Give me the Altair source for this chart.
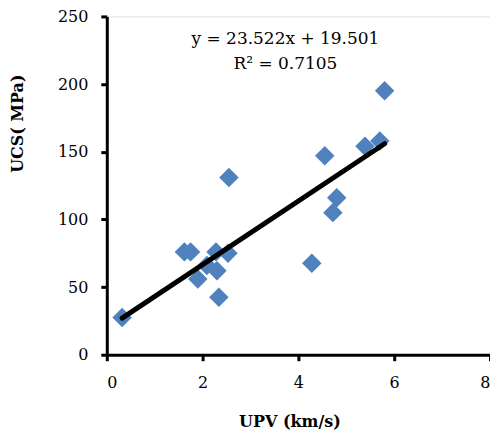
import altair as alt
import pandas as pd

# Data
upv = [0.32, 1.62, 1.75, 1.90, 2.09, 2.28, 2.30, 2.34, 2.53, 2.55,
       4.28, 4.55, 4.72, 4.80, 5.39, 5.70, 5.80]
ucs = [27.5, 76.0, 76.0, 56.0, 66.0, 76.0, 62.0, 42.5, 75.0, 131.0,
       67.6, 147.0, 105.0, 116.0, 154.0, 158.0, 195.0]

slope = 23.522
intercept = 19.501
r2 = 0.7105
eq_lines = [f"y = {slope}x + {intercept}", f"R² = {r2}"]

pts = pd.DataFrame({"UPV": upv, "UCS": ucs})
xmin, xmax = min(upv), max(upv)
trend = pd.DataFrame({"UPV": [xmin, xmax],
                      "UCS": [slope * xmin + intercept, slope * xmax + intercept]})

FONT = "DejaVu Serif"

xscale = alt.Scale(domain=[0, 8], nice=False)
yscale = alt.Scale(domain=[0, 250], nice=False)

xaxis = alt.Axis(values=[0, 2, 4, 6, 8], title="UPV (km/s)", grid=False,
                 domainColor="black", domainWidth=3, tickColor="black", tickWidth=3,
                 tickSize=6, labelFont=FONT, labelFontSize=16, labelColor="black",
                 labelPadding=14, titleFont=FONT, titleFontSize=16, titleFontWeight="bold",
                 titleColor="black", titleX=183, titleY=72, titleBaseline="alphabetic")
yaxis = alt.Axis(values=[0, 50, 100, 150, 200, 250], title="UCS( MPa)", grid=False,
                 domainColor="black", domainWidth=3, tickColor="black", tickWidth=3,
                 tickSize=6, labelFont=FONT, labelFontSize=16, labelColor="black",
                 labelPadding=13, titleFont=FONT, titleFontSize=16, titleFontWeight="bold",
                 titleColor="black", titleX=-89, titleY=107, titleAngle=-90,
                 titleBaseline="middle", titleAlign="center")

points = alt.Chart(pts).mark_point(shape="diamond", filled=True, size=380,
                                   color="#4F81BD", opacity=1).encode(
    x=alt.X("UPV:Q", scale=xscale, axis=xaxis),
    y=alt.Y("UCS:Q", scale=yscale, axis=yaxis),
)

line = alt.Chart(trend).mark_line(color="black", strokeWidth=5, strokeCap="round").encode(
    x=alt.X("UPV:Q", scale=xscale),
    y=alt.Y("UCS:Q", scale=yscale),
)

ann = pd.DataFrame({"txt": eq_lines, "row": [0, 1]})
text1 = alt.Chart(ann).transform_filter("datum.row == 0").mark_text(
    font=FONT, fontSize=17, color="black", align="center", baseline="middle"
).encode(text="txt:N", x=alt.value(179), y=alt.value(23))
text2 = alt.Chart(ann).transform_filter("datum.row == 1").mark_text(
    font=FONT, fontSize=17, color="black", align="center", baseline="middle"
).encode(text="txt:N", x=alt.value(179), y=alt.value(48))

chart = alt.layer(points, line, text1, text2).properties(
    width=384, height=339,
    autosize=alt.AutoSizeParams(type="none"),
    padding={"left": 99, "top": 8, "right": 0, "bottom": 76},
).configure_view(stroke=None).configure(background="white")

chart.save("out.html", embed_options={"renderer": "svg", "actions": False})
